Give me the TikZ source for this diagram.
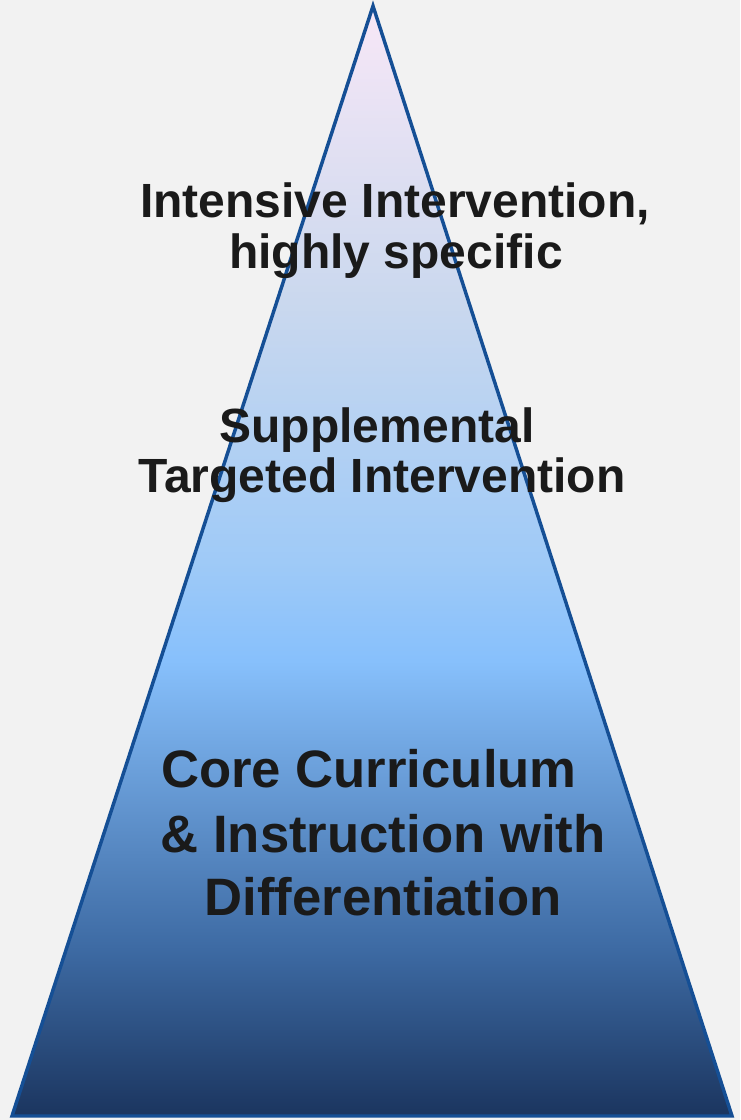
\documentclass[tikz,border=0pt]{standalone}
\usepackage{fontspec}
\setmainfont{Liberation Sans}
\definecolor{bgc}{HTML}{F2F2F2}
\definecolor{edgec}{HTML}{154F95}
\definecolor{txtc}{HTML}{1A1A1A}
\definecolor{gA}{HTML}{1B355F}
\definecolor{gB}{HTML}{3D6AA3}
\definecolor{gC}{HTML}{87C0FC}
\definecolor{gD}{HTML}{9FCAF7}
\definecolor{gE}{HTML}{CAD8EE}
\definecolor{gF}{HTML}{F4E6F6}
\definecolor{gG}{HTML}{F7E8F7}
\pgfdeclareverticalshading{pyramidshade}{100bp}{%
  color(0bp)=(gA);
  color(25bp)=(gA);
  color(32.5bp)=(gB);
  color(45.5bp)=(gC);
  color(50bp)=(gD);
  color(61.7bp)=(gE);
  color(73.9bp)=(gF);
  color(75bp)=(gG);
  color(100bp)=(gG)}
\begin{document}
\begin{tikzpicture}[x=0.75pt,y=-0.75pt,
  lbl/.style={anchor=base,inner sep=0pt,text=txtc,font=\bfseries\fontsize{36}{40}\selectfont},
  lblbig/.style={lbl,font=\bfseries\fontsize{39.5}{44}\selectfont}]
\fill[bgc] (0,0) rectangle (740,1120);
\useasboundingbox (0,0) rectangle (740,1120);
\coordinate (apex) at (373,6);
\coordinate (bl) at (12,1116);
\coordinate (br) at (732,1116);
\shade[shading=pyramidshade] (apex) -- (br) -- (bl) -- cycle;
\draw[edgec,line width=2.6pt,line join=miter] (apex) -- (br) -- (bl) -- cycle;
\node[lbl] (t1a) at (395,217) {Intensive Intervention,};
\node[lbl] (t1b) at (396,268) {highly specific};
\node[lbl] (t2a) at (377,442) {Supplemental};
\node[lbl] (t2b) at (382,492) {Targeted Intervention};
\node[lblbig] (t3a) at (369,787) {Core Curriculum};
\node[lblbig] (t3b) at (383,852) {\& Instruction with};
\node[lblbig] (t3c) at (383,915) {Differentiation};
\end{tikzpicture}
\end{document}
